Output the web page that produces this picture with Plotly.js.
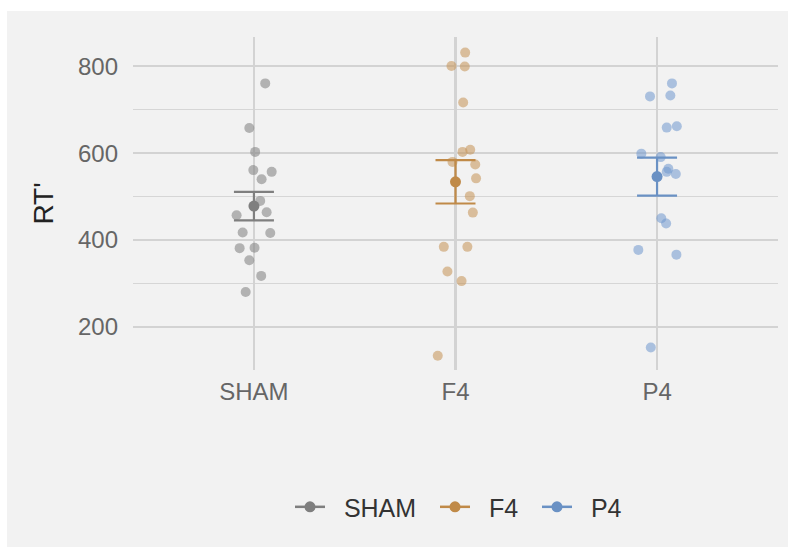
<!DOCTYPE html>
<html>
<head>
<meta charset="utf-8">
<script src="https://cdn.plot.ly/plotly-3.0.1.min.js"></script>
<style>html,body{margin:0;padding:0;background:#fff;}#chart{width:788px;height:547px;}</style>
</head>
<body>
<div id="chart"></div>
<script>
// ---- data ----
var groups = ["SHAM", "F4", "P4"];
var groupPos = [1, 2, 3];

var shamRT = [761, 658, 603, 561, 557, 540, 490, 464, 457, 417, 416, 381, 382, 353, 317, 280];
var shamJitter = [0.056, -0.023, 0.006, -0.003, 0.088, 0.038, 0.031, 0.063, -0.086, -0.056, 0.081, -0.071, 0.003, -0.023, 0.036, -0.041];

var f4RT = [832, 801, 800, 717, 603, 608, 580, 574, 542, 501, 463, 384, 384, 327, 305, 133];
var f4Jitter = [0.048, -0.020, 0.046, 0.038, 0.035, 0.073, -0.015, 0.098, 0.102, 0.071, 0.086, -0.058, 0.059, -0.040, 0.030, -0.088];

var p4RT = [761, 731, 733, 659, 662, 599, 591, 564, 557, 552, 450, 438, 377, 366, 152];
var p4Jitter = [0.074, -0.035, 0.066, 0.048, 0.098, -0.078, 0.018, 0.056, 0.048, 0.093, 0.021, 0.045, -0.093, 0.096, -0.031];

var meanRT = [478, 534, 546];
var seRT = [33, 50, 44];

var yTickVals = [200, 400, 600, 800];
var yTickText = ["200", "400", "600", "800"];
// ---------------------------------------

var pointColors = ["rgba(135,135,135,0.6)", "rgba(196,146,84,0.55)", "rgba(112,152,205,0.55)"];
var meanColors = ["#7f7f7f", "#c08a48", "#6a91c4"];
var allRT = [shamRT, f4RT, p4RT];
var allJit = [shamJitter, f4Jitter, p4Jitter];
var NB = "\u00a0";

var traces = [];
for (var g = 0; g < groups.length; g++) {
  traces.push({
    type: "scatter", mode: "markers",
    x: allJit[g].map(function (j) { return groupPos[g] + j; }),
    y: allRT[g],
    marker: {size: 10, color: pointColors[g], line: {width: 0}},
    showlegend: false, hoverinfo: "y"
  });
}
for (var g = 0; g < groups.length; g++) {
  traces.push({
    type: "scatter", mode: "lines+markers",
    name: NB + NB + groups[g] + NB + NB,
    x: [groupPos[g]], y: [meanRT[g]],
    marker: {size: 11, color: meanColors[g]},
    line: {color: meanColors[g], width: 2.5},
    error_y: {type: "data", array: [seRT[g]], color: meanColors[g], thickness: 2.2, width: 20}
  });
}

var fontFam = "Liberation Sans, Arial, Helvetica, sans-serif";
var layout = {
  width: 788, height: 547,
  margin: {l: 133, r: 10, t: 37, b: 177},
  paper_bgcolor: "#f2f2f2",
  plot_bgcolor: "rgba(0,0,0,0)",
  font: {family: fontFam, color: "#6b6b6b"},
  showlegend: true,
  xaxis: {
    type: "linear", range: [0.4, 3.6],
    tickvals: groupPos, ticktext: groups,
    showgrid: true, gridcolor: "#d3d3d3", gridwidth: 2.5,
    zeroline: false, showline: false, ticks: "",
    tickfont: {size: 24, color: "#666666"},
    ticklabelstandoff: 5,
    fixedrange: true
  },
  yaxis: {
    range: [100, 868],
    tickvals: yTickVals, ticktext: yTickText,
    showgrid: true, gridcolor: "#d3d3d3", gridwidth: 2,
    minor: {tickvals: [100, 300, 500, 700], showgrid: true, gridcolor: "#d6d6d6", gridwidth: 1.2, ticks: ""},
    zeroline: false, showline: false, ticks: "",
    tickfont: {size: 24, color: "#666666"},
    ticklabelstandoff: 14,
    title: {text: "RT'", font: {size: 28, color: "#222222"}, standoff: 16},
    fixedrange: true
  },
  legend: {
    orientation: "h",
    xref: "paper", x: 0.5 + 10 / 645, xanchor: "center",
    yref: "container", y: 0.073, yanchor: "middle",
    font: {size: 25, color: "#333333", family: fontFam},
    bgcolor: "rgba(0,0,0,0)"
  },
  shapes: [
    {type: "rect", xref: "paper", yref: "paper", layer: "below",
     x0: -133 / 645, x1: (7 - 133) / 645, y0: -177 / 333, y1: 1 + 37 / 333,
     fillcolor: "#ffffff", line: {width: 0}},
    {type: "rect", xref: "paper", yref: "paper", layer: "below",
     x0: -133 / 645, x1: 1 + 10 / 645, y0: 1 + 26 / 333, y1: 1 + 37 / 333,
     fillcolor: "#ffffff", line: {width: 0}}
  ]
};

Plotly.newPlot("chart", traces, layout, {displayModeBar: false, staticPlot: true});
</script>
</body>
</html>
